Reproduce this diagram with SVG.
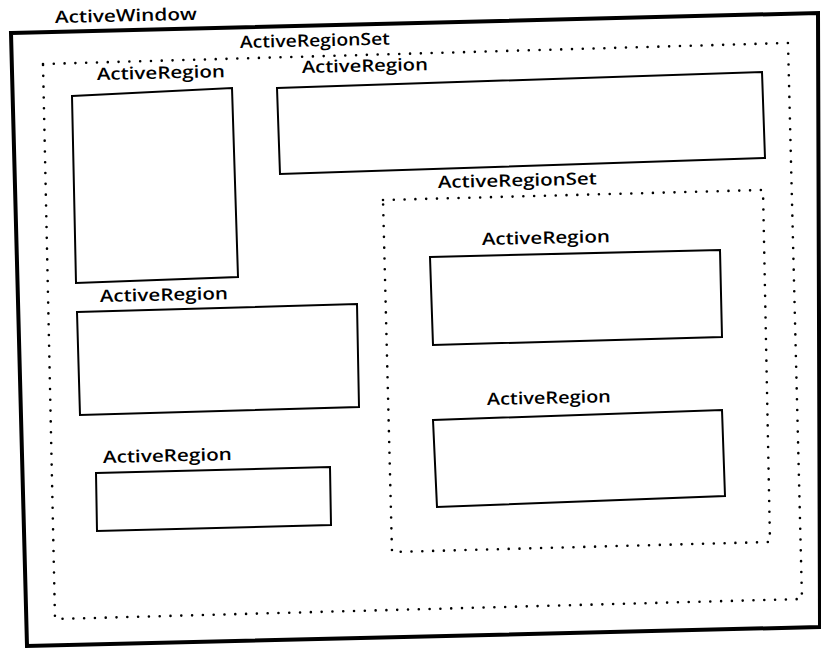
<svg xmlns="http://www.w3.org/2000/svg" width="821" height="649" viewBox="0 0 821 649">
  <style>
    .win { fill: none; stroke: #000; stroke-width: 4; stroke-linejoin: miter; }
    .set { fill: none; stroke: #000; stroke-width: 2.6; stroke-linecap: round; stroke-dasharray: 0 10.8; }
    .reg { fill: none; stroke: #000; stroke-width: 2; stroke-linejoin: miter; }
    .lbl { font-family: "Open Sans", "Liberation Sans", sans-serif; font-size: 17px; font-weight: 600; fill: #000; }
  </style>
  <rect width="821" height="649" fill="#fff"/>

  <!-- outer window -->
  <g id="active-window">
    <polygon class="win" points="11,33 818,13 820,627 27,646"/>
    <text class="lbl" x="55" y="23" textLength="142" lengthAdjust="spacingAndGlyphs" transform="rotate(-1.3 55 23)">ActiveWindow</text>
  </g>

  <!-- outer region set -->
  <g id="region-set-outer">
    <polygon class="set" points="43,64 788,43 802,599 55,619"/>
    <text class="lbl" x="240" y="48" textLength="150" lengthAdjust="spacingAndGlyphs" transform="rotate(-1.3 240 48)">ActiveRegionSet</text>
  </g>

  <!-- inner region set -->
  <g id="region-set-inner">
    <polygon class="set" points="383,200 763,190 770,542 392,552"/>
    <text class="lbl" x="438" y="188" textLength="159" lengthAdjust="spacingAndGlyphs" transform="rotate(-1.3 438 188)">ActiveRegionSet</text>
  </g>

  <g id="region-tall">
    <polygon class="reg" points="72,96 232,88 238,277 76,283"/>
    <text class="lbl" x="97" y="80" textLength="128" lengthAdjust="spacingAndGlyphs" transform="rotate(-1.3 97 80)">ActiveRegion</text>
  </g>

  <g id="region-top">
    <polygon class="reg" points="277,88 762,72 765,158 280,174"/>
    <text class="lbl" x="302" y="73" textLength="126" lengthAdjust="spacingAndGlyphs" transform="rotate(-1.3 302 73)">ActiveRegion</text>
  </g>

  <g id="region-middle">
    <polygon class="reg" points="77,312 357,304 359,407 80,415"/>
    <text class="lbl" x="100" y="302" textLength="128" lengthAdjust="spacingAndGlyphs" transform="rotate(-1.3 100 302)">ActiveRegion</text>
  </g>

  <g id="region-small">
    <polygon class="reg" points="96,473 330,467 331,525 97,531"/>
    <text class="lbl" x="103" y="463" textLength="129" lengthAdjust="spacingAndGlyphs" transform="rotate(-1.3 103 463)">ActiveRegion</text>
  </g>

  <g id="region-inner-1">
    <polygon class="reg" points="430,257 720,250 722,337 433,345"/>
    <text class="lbl" x="482" y="245" textLength="128" lengthAdjust="spacingAndGlyphs" transform="rotate(-1.3 482 245)">ActiveRegion</text>
  </g>

  <g id="region-inner-2">
    <polygon class="reg" points="433,420 722,410 725,496 437,507"/>
    <text class="lbl" x="487" y="405" textLength="124" lengthAdjust="spacingAndGlyphs" transform="rotate(-1.3 487 405)">ActiveRegion</text>
  </g>
</svg>
